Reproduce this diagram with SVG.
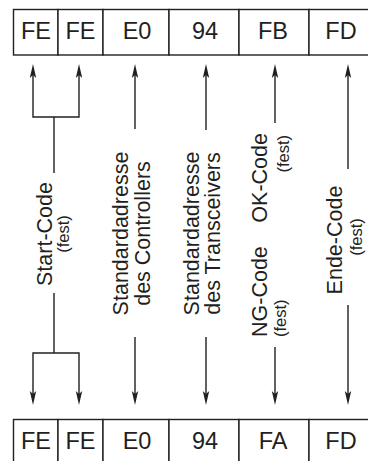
<svg xmlns="http://www.w3.org/2000/svg" xmlns:xlink="http://www.w3.org/1999/xlink" width="368" height="461" viewBox="0 0 368 461">
<style>
.cell{fill:#fff;stroke:#231f20;stroke-width:1.4}
.bt{font-family:"Liberation Sans",Arial,sans-serif;font-size:23.5px;fill:#231f20;text-anchor:middle}
.lb{font-family:"Liberation Sans",Arial,sans-serif;font-size:21.5px;fill:#231f20}
.sm{font-family:"Liberation Sans",Arial,sans-serif;font-size:16.5px;fill:#231f20}
.ln{fill:none;stroke:#231f20;stroke-width:1.4}
.ah{fill:#231f20}
</style>
<defs>
<path id="up" d="M0,0 L3.2,14 L0,11 L-3.2,14 Z"/>
<path id="dn" d="M0,0 L3.2,-14 L0,-11 L-3.2,-14 Z"/>
</defs>
<rect width="368" height="461" fill="#fff"/>
<g id="top-row">
<g id="t1"><rect class="cell" x="13.5" y="9.5" width="44.5" height="45.5"/><text class="bt" x="36" y="38.5">FE</text></g>
<g id="t2"><rect class="cell" x="58" y="9.5" width="45" height="45.5"/><text class="bt" x="80.5" y="38.5">FE</text></g>
<g id="t3"><rect class="cell" x="103" y="9.5" width="66" height="45.5"/><text class="bt" x="137" y="38.5">E0</text></g>
<g id="t4"><rect class="cell" x="169" y="9.5" width="70" height="45.5"/><text class="bt" x="205" y="38.5">94</text></g>
<g id="t5"><rect class="cell" x="239" y="9.5" width="70" height="45.5"/><text class="bt" x="273" y="38.5">FB</text></g>
<g id="t6"><rect class="cell" x="309" y="9.5" width="66" height="45.5"/><text class="bt" x="341" y="38.5">FD</text></g>
</g>
<g id="bottom-row">
<g id="b1"><rect class="cell" x="13.5" y="419.5" width="44.5" height="50"/><text class="bt" x="36" y="448.5">FE</text></g>
<g id="b2"><rect class="cell" x="58" y="419.5" width="45" height="50"/><text class="bt" x="80.5" y="448.5">FE</text></g>
<g id="b3"><rect class="cell" x="103" y="419.5" width="66" height="50"/><text class="bt" x="137" y="448.5">E0</text></g>
<g id="b4"><rect class="cell" x="169" y="419.5" width="70" height="50"/><text class="bt" x="205" y="448.5">94</text></g>
<g id="b5"><rect class="cell" x="239" y="419.5" width="70" height="50"/><text class="bt" x="273" y="448.5">FA</text></g>
<g id="b6"><rect class="cell" x="309" y="419.5" width="66" height="50"/><text class="bt" x="341" y="448.5">FD</text></g>
</g>
<g id="connectors">
<path class="ln" d="M33,75 V117 H79 V75 M54,117 V173 M54,293 V353 M33,394 V353 H79 V394"/>
<path class="ln" d="M135,75 V129 M135,337 V394"/>
<path class="ln" d="M206,75 V130 M206,337 V394"/>
<path class="ln" d="M275,75 V123 M275,347 V394"/>
<path class="ln" d="M348,75 V169 M348,305 V394"/>
<g class="ah">
<use xlink:href="#up" x="33" y="64"/><use xlink:href="#up" x="79" y="64"/><use xlink:href="#up" x="135" y="64"/>
<use xlink:href="#up" x="206" y="64"/><use xlink:href="#up" x="275" y="64"/><use xlink:href="#up" x="348" y="64"/>
<use xlink:href="#dn" x="33" y="405"/><use xlink:href="#dn" x="79" y="405"/><use xlink:href="#dn" x="135" y="405"/>
<use xlink:href="#dn" x="206" y="405"/><use xlink:href="#dn" x="275" y="405"/><use xlink:href="#dn" x="348" y="405"/>
</g>
</g>
<g id="label-start">
<text class="lb" text-anchor="middle" transform="translate(52,234) rotate(-90)">Start-Code</text>
<text class="sm" text-anchor="middle" transform="translate(68.5,234) rotate(-90)">(fest)</text>
</g>
<g id="label-controller">
<text class="lb" text-anchor="middle" transform="translate(128,233.5) rotate(-90)">Standardadresse</text>
<text class="lb" text-anchor="middle" transform="translate(150,233.5) rotate(-90)">des Controllers</text>
</g>
<g id="label-transceiver">
<text class="lb" text-anchor="middle" transform="translate(199,233.5) rotate(-90)">Standardadresse</text>
<text class="lb" text-anchor="middle" transform="translate(220,233.5) rotate(-90)">des Transceivers</text>
</g>
<g id="label-ok">
<text class="lb" text-anchor="end" transform="translate(267,133) rotate(-90)">OK-Code</text>
<text class="sm" text-anchor="end" transform="translate(289,135) rotate(-90)">(fest)</text>
</g>
<g id="label-ng">
<text class="lb" text-anchor="start" transform="translate(267,337) rotate(-90)">NG-Code</text>
<text class="sm" text-anchor="start" transform="translate(285.5,337) rotate(-90)">(fest)</text>
</g>
<g id="label-ende">
<text class="lb" text-anchor="middle" transform="translate(342,240) rotate(-90)">Ende-Code</text>
<text class="sm" text-anchor="middle" transform="translate(362,237) rotate(-90)">(fest)</text>
</g>
</svg>
